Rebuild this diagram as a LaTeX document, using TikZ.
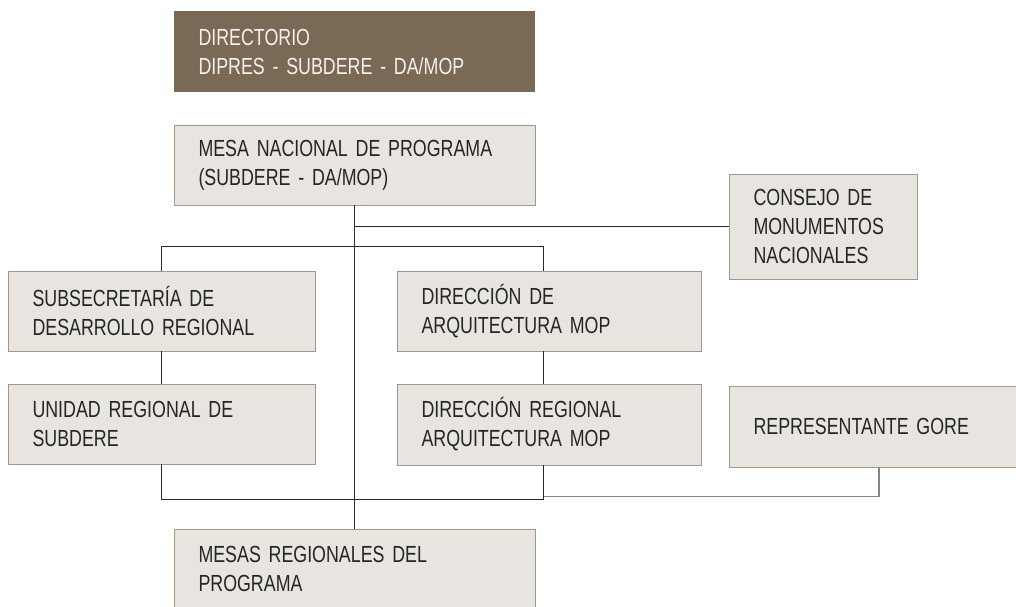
\documentclass[tikz,border=0pt]{standalone}
\usepackage{fontspec}
\newfontfamily\orgfont[FakeStretch=0.765]{Liberation Sans}
\usetikzlibrary{calc}
\definecolor{darkbox}{HTML}{7A6955}
\definecolor{lightbox}{HTML}{E8E4DF}
\definecolor{boxline}{HTML}{A6978A}
\definecolor{txt}{HTML}{262626}
\definecolor{dtxt}{HTML}{F4F0EB}
\definecolor{conncol}{HTML}{2A2A2A}
\definecolor{gorecol}{HTML}{858585}
\begin{document}
\begin{tikzpicture}[x=1pt,y=-1pt,
  orgbox/.style={rectangle, draw=boxline, line width=1pt, fill=lightbox, text=txt,
    font=\orgfont\fontsize{23.3}{29}\selectfont, align=left,
    inner xsep=24.5pt, inner ysep=0pt, outer sep=0pt, anchor=north west},
  topbox/.style={orgbox, fill=darkbox, draw=none, text=dtxt},
  conn/.style={draw=conncol, line width=1pt},
  gconn/.style={draw=gorecol, line width=1.6pt}]
\clip (0,0) rectangle (1016,606);
\useasboundingbox (0,0) rectangle (1016,606);
\fill[white] (0,0) rectangle (1016,606);

\node[topbox, minimum width=361pt, text width=312pt, minimum height=81pt] (dir) at (174,11)
  {DIRECTORIO\\DIPRES - SUBDERE - DA/MOP};
\node[orgbox, minimum width=361pt, text width=312pt, minimum height=80pt] (mesa) at (174,125)
  {MESA NACIONAL DE PROGRAMA\\(SUBDERE - DA/MOP)};
\node[orgbox, minimum width=188pt, text width=139pt, minimum height=105pt] (cons) at (729,174)
  {CONSEJO DE\\MONUMENTOS\\NACIONALES};
\node[orgbox, minimum width=307pt, text width=258pt, minimum height=80pt] (subs) at (8,271)
  {SUBSECRETARÍA DE\\DESARROLLO REGIONAL};
\node[orgbox, minimum width=304pt, text width=255pt, minimum height=80pt] (dirA) at (397,271)
  {DIRECCIÓN DE\\ARQUITECTURA MOP};
\node[orgbox, minimum width=307pt, text width=258pt, minimum height=80pt] (unid) at (8,384)
  {UNIDAD REGIONAL DE\\SUBDERE};
\node[orgbox, minimum width=304pt, text width=255pt, minimum height=81pt] (dirR) at (397,384)
  {DIRECCIÓN REGIONAL\\ARQUITECTURA MOP};
\node[orgbox, minimum width=300pt, text width=251pt, minimum height=81pt] (gore) at (729,386)
  {REPRESENTANTE GORE};
\node[orgbox, minimum width=361pt, text width=312pt, minimum height=80pt] (mesas) at (174,529)
  {MESAS REGIONALES DEL\\PROGRAMA};

\coordinate (rx) at (543,246);
\coordinate (rb) at (543,499);
\coordinate (gb) at (543,496.5);

\draw[conn] (mesa.south) -- (mesas.north);
\draw[conn] (mesa.south |- cons.west) -- (cons.west);
\draw[conn] (subs.north) -- (subs.north |- rx) -- (rx) -- (rx |- dirA.north);
\draw[conn] (subs.south) -- (unid.north);
\draw[conn] (rx |- dirA.south) -- (rx |- dirR.north);
\draw[gconn] (gore.south) -- (gore.south |- gb) -- (gb);
\draw[conn] (unid.south) -- (unid.south |- rb) -- (rb) -- (rx |- dirR.south);
\end{tikzpicture}
\end{document}
